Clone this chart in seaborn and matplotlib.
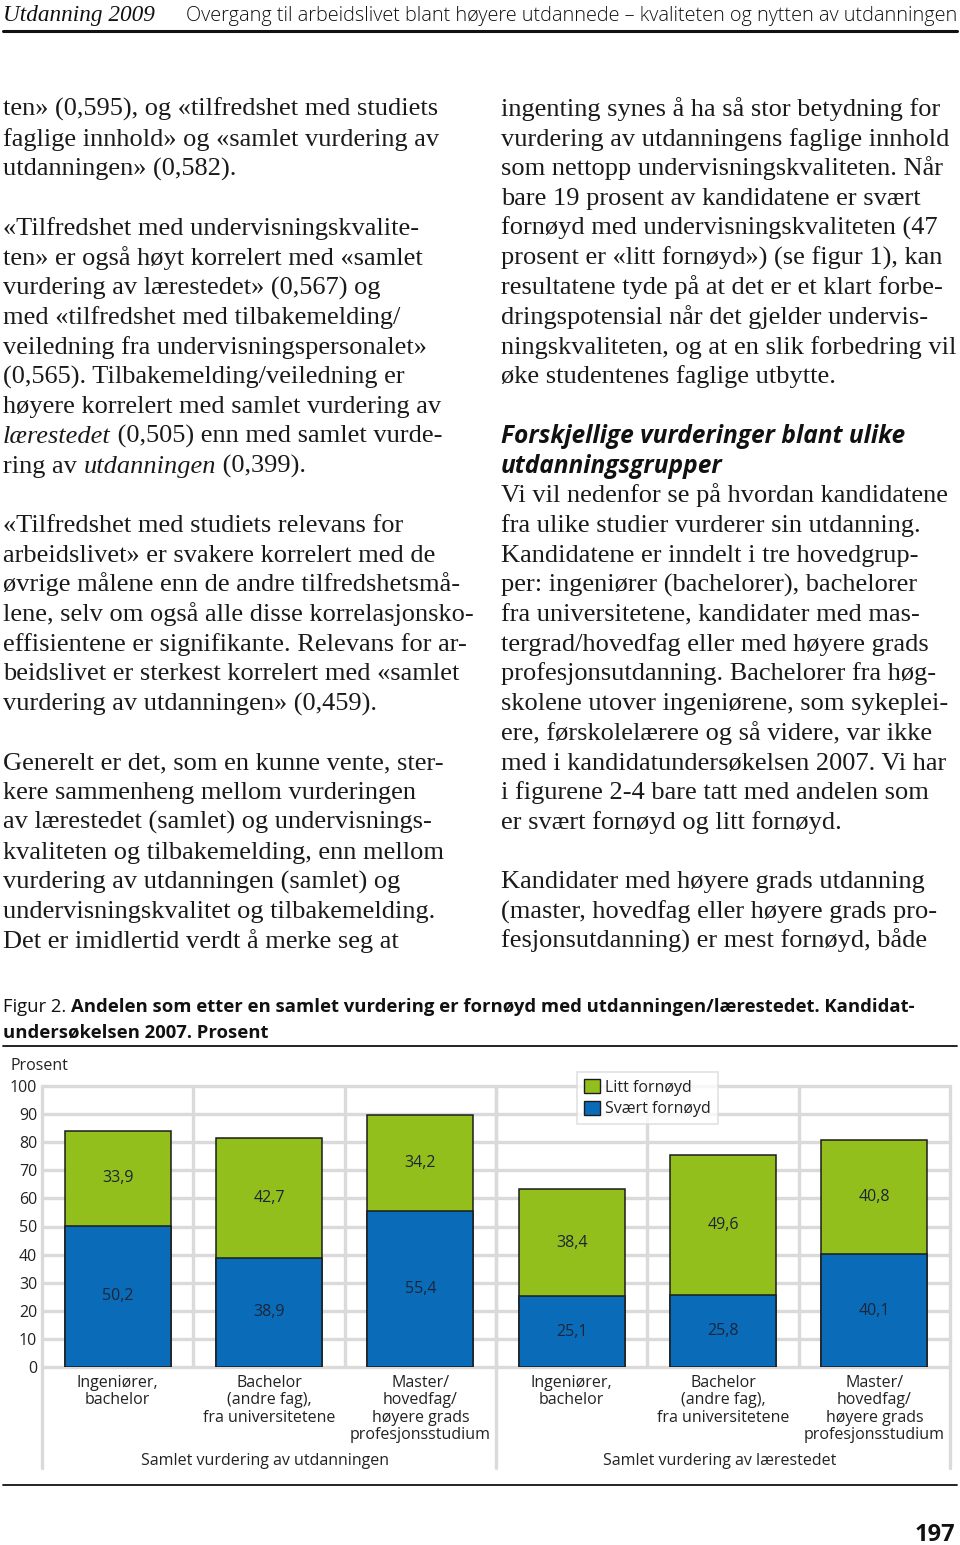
import matplotlib
matplotlib.use("Agg")
import matplotlib.pyplot as plt
import pandas as pd
import seaborn as sns
from matplotlib.lines import Line2D
from matplotlib.patches import Patch

W, H = 960, 1545

# chart data
keys = ["u1", "u2", "u3", "l1", "l2", "l3"]
categories = ["Ingeniører,\nbachelor",
              "Bachelor\n(andre fag),\nfra universitetene",
              "Master/\nhovedfag/\nhøyere grads\nprofesjonsstudium"]
groups = ["Samlet vurdering av utdanningen", "Samlet vurdering av lærestedet"]
svaert = [50.2, 38.9, 55.4, 25.1, 25.8, 40.1]
litt = [33.9, 42.7, 34.2, 38.4, 49.6, 40.8]
yticks = [0, 10, 20, 30, 40, 50, 60, 70, 80, 90, 100]
legend_labels = ["Litt fornøyd", "Svært fornøyd"]

# page text (*...* = italic, # = sub heading)
header_left = "Utdanning 2009"
header_right = "Overgang til arbeidslivet blant høyere utdannede – kvaliteten og nytten av utdanningen"
left_col = [
    "ten» (0,595), og «tilfredshet med studiets",
    "faglige innhold» og «samlet vurdering av",
    "utdanningen» (0,582).",
    "",
    "«Tilfredshet med undervisningskvalite-",
    "ten» er også høyt korrelert med «samlet",
    "vurdering av lærestedet» (0,567) og",
    "med «tilfredshet med tilbakemelding/",
    "veiledning fra undervisningspersonalet»",
    "(0,565). Tilbakemelding/veiledning er",
    "høyere korrelert med samlet vurdering av",
    "*lærestedet* (0,505) enn med samlet vurde-",
    "ring av *utdanningen* (0,399).",
    "",
    "«Tilfredshet med studiets relevans for",
    "arbeidslivet» er svakere korrelert med de",
    "øvrige målene enn de andre tilfredshetsmå-",
    "lene, selv om også alle disse korrelasjonsko-",
    "effisientene er signifikante. Relevans for ar-",
    "beidslivet er sterkest korrelert med «samlet",
    "vurdering av utdanningen» (0,459).",
    "",
    "Generelt er det, som en kunne vente, ster-",
    "kere sammenheng mellom vurderingen",
    "av lærestedet (samlet) og undervisnings-",
    "kvaliteten og tilbakemelding, enn mellom",
    "vurdering av utdanningen (samlet) og",
    "undervisningskvalitet og tilbakemelding.",
    "Det er imidlertid verdt å merke seg at",
]
right_col = [
    "ingenting synes å ha så stor betydning for",
    "vurdering av utdanningens faglige innhold",
    "som nettopp undervisningskvaliteten. Når",
    "bare 19 prosent av kandidatene er svært",
    "fornøyd med undervisningskvaliteten (47",
    "prosent er «litt fornøyd») (se figur 1), kan",
    "resultatene tyde på at det er et klart forbe-",
    "dringspotensial når det gjelder undervis-",
    "ningskvaliteten, og at en slik forbedring vil",
    "øke studentenes faglige utbytte.",
    "",
    "#Forskjellige vurderinger blant ulike",
    "#utdanningsgrupper",
    "Vi vil nedenfor se på hvordan kandidatene",
    "fra ulike studier vurderer sin utdanning.",
    "Kandidatene er inndelt i tre hovedgrup-",
    "per: ingeniører (bachelorer), bachelorer",
    "fra universitetene, kandidater med mas-",
    "tergrad/hovedfag eller med høyere grads",
    "profesjonsutdanning. Bachelorer fra høg-",
    "skolene utover ingeniørene, som sykeplei-",
    "ere, førskolelærere og så videre, var ikke",
    "med i kandidatundersøkelsen 2007. Vi har",
    "i figurene 2-4 bare tatt med andelen som",
    "er svært fornøyd og litt fornøyd.",
    "",
    "Kandidater med høyere grads utdanning",
    "(master, hovedfag eller høyere grads pro-",
    "fesjonsutdanning) er mest fornøyd, både",
]
caption_lead = "Figur 2. "
caption_bold_1 = "Andelen som etter en samlet vurdering er fornøyd med utdanningen/lærestedet. Kandidat-"
caption_bold_2 = "undersøkelsen 2007. Prosent"
page_number = "197"

GREEN = "#93bf1c"
BLUE = "#0a6cb8"
EDGE = "#1c1c1c"
GRID = "#dadada"
TXT = "#222222"
SERIF = "Liberation Serif"
SANS = "Open Sans"
CHART_FS = 11.5

sns.set_style("white")
plt.rcParams["font.family"] = [SANS, "DejaVu Sans"]

fig = plt.figure(figsize=(W / 100, H / 100), dpi=100)
renderer = fig.canvas.get_renderer()


def fx(x):
    return x / W


def fy(y):
    return 1 - y / H


def width_of(s, **kw):
    t = fig.text(0, 0, s, **kw)
    w = t.get_window_extent(renderer).width
    t.remove()
    return w


def fit(s, target, **kw):
    return 10 * target / width_of(s, fontsize=10, **kw)


def put(x, base, segs):
    cx = x
    for s, kw in segs:
        t = fig.text(fx(cx), fy(base), s, va="baseline", ha="left", **kw)
        cx += t.get_window_extent(renderer).width


# font sizes for the page text
body_fs = fit("høyere korrelert med samlet vurdering av", 438, family=SERIF)
head_fs = fit(header_right, 770, family=SANS, fontweight="light")
cap_fs = fit(caption_bold_2, 265, family=SANS, fontweight="bold")
sub_fs = fit("Forskjellige vurderinger blant ulike", 406, family=SANS,
             fontweight="bold", fontstyle="italic")

# header
fig.text(fx(3), fy(21), header_left, family=SERIF, style="italic",
         fontsize=head_fs * 1.17, va="baseline", color="#111111")
fig.text(fx(957), fy(21), header_right, family=SANS, fontweight="light",
         fontsize=head_fs, va="baseline", ha="right", color="#111111")
fig.add_artist(Line2D([fx(3), fx(957)], [fy(31), fy(31)], color="#111111", lw=2.2))

# body columns
step = 29.71
for col_x, lines in [(3, left_col), (501, right_col)]:
    for i, line in enumerate(lines):
        if not line:
            continue
        base = 116 + i * step
        if line.startswith("#"):
            put(col_x, base, [(line[1:], dict(family=SANS, fontweight="bold",
                                                fontstyle="italic", fontsize=sub_fs,
                                                color="#111111"))])
            continue
        parts = line.split("*")
        segs = []
        for j, p in enumerate(parts):
            if p:
                segs.append((p, dict(family=SERIF, fontsize=body_fs, color="#1a1a1a",
                                     fontstyle="italic" if j % 2 else "normal")))
        put(col_x, base, segs)

# caption
put(3, 1012, [(caption_lead, dict(family=SANS, fontsize=cap_fs, color="#111111")),
              (caption_bold_1, dict(family=SANS, fontsize=cap_fs, fontweight="bold",
                                    color="#111111"))])
put(3, 1037, [(caption_bold_2, dict(family=SANS, fontsize=cap_fs, fontweight="bold",
                                    color="#111111"))])
fig.add_artist(Line2D([fx(3), fx(957)], [fy(1046), fy(1046)], color="#111111", lw=1.3))

# chart
df = pd.DataFrame({"key": keys, "svaert": svaert, "litt": litt})
df["total"] = df["svaert"] + df["litt"]

left, right, top, bottom = 42, 950, 1086, 1367
ax = fig.add_axes([fx(left), fy(bottom), (right - left) / W, (bottom - top) / H])
sns.barplot(data=df, x="key", y="total", color=GREEN, saturation=1, width=0.7,
            edgecolor=EDGE, linewidth=1.1, ax=ax, zorder=3)
sns.barplot(data=df, x="key", y="svaert", color=BLUE, saturation=1, width=0.7,
            edgecolor=EDGE, linewidth=1.1, ax=ax, zorder=4)

ax.set_xlim(-0.5, 5.5)
ax.set_ylim(0, 100)
ax.set_yticks(yticks)
ax.set_yticklabels([str(v) for v in yticks])
ax.set_xticks(range(6))
ax.set_xticklabels(categories * 2, linespacing=1.12)
ax.set_xticks([0.5, 1.5, 2.5, 3.5, 4.5], minor=True)
ax.set_xlabel("")
ax.set_ylabel("")
ax.tick_params(axis="both", which="both", length=0, labelsize=CHART_FS, colors=TXT)
ax.tick_params(axis="y", pad=3.5)
ax.tick_params(axis="x", pad=5.5)
ax.yaxis.grid(True, color=GRID, lw=2.4, zorder=0)
ax.xaxis.grid(True, which="minor", color=GRID, lw=2.4, zorder=0)
ax.set_axisbelow(True)
for gl in ax.get_ygridlines():
    gl.set_clip_on(False)
for s in ax.spines.values():
    s.set_visible(False)

drop = -(1468 - bottom) / (bottom - top)
for xa in [0, 0.5, 1]:
    ax.plot([xa, xa], [1, drop], transform=ax.transAxes, color=GRID, lw=2.4,
            clip_on=False, zorder=0)

for i, (s, l) in enumerate(zip(svaert, litt)):
    ax.text(i, s / 2, f"{s:.1f}".replace(".", ","), ha="center", va="center",
            fontsize=CHART_FS, color="#1b2536", zorder=5)
    ax.text(i, s + l / 2, f"{l:.1f}".replace(".", ","), ha="center", va="center",
            fontsize=CHART_FS, color="#1b2536", zorder=5)

fig.text(fx(10), fy(1066), "Prosent", fontsize=CHART_FS, color=TXT, va="center")
fig.text(fx(265), fy(1461), groups[0], fontsize=CHART_FS, color=TXT,
         va="center", ha="center")
fig.text(fx(720), fy(1461), groups[1], fontsize=CHART_FS, color=TXT,
         va="center", ha="center")

handles = [Patch(facecolor=GREEN, edgecolor=EDGE, label=legend_labels[0]),
           Patch(facecolor=BLUE, edgecolor=EDGE, label=legend_labels[1])]
leg = fig.legend(handles=handles, loc="upper left", bbox_to_anchor=(fx(577), fy(1072)),
                 frameon=True, fancybox=False, edgecolor=GRID, fontsize=CHART_FS,
                 handlelength=1.0, handleheight=1.0, handletextpad=0.3,
                 borderpad=0.45, labelspacing=0.3, borderaxespad=0)
leg.get_frame().set_linewidth(1.2)
for t in leg.get_texts():
    t.set_color(TXT)

# footer
fig.add_artist(Line2D([fx(3), fx(957)], [fy(1485), fy(1485)], color="#111111", lw=1.3))
fig.text(fx(955), fy(1541), page_number, fontsize=17, fontweight="bold", ha="right",
         va="baseline", color="#111111")

fig.savefig("out.png", dpi=100)
